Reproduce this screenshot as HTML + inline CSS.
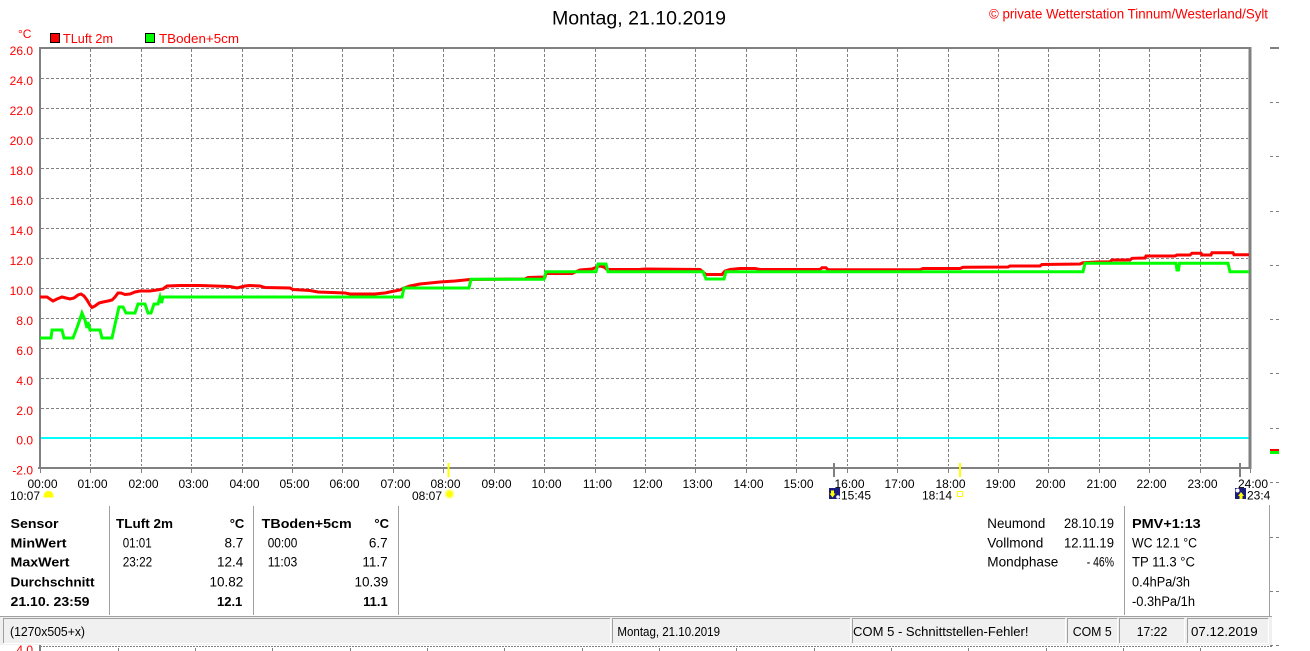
<!DOCTYPE html>
<html><head><meta charset="utf-8">
<style>
html,body{margin:0;padding:0;background:#fff;}
svg{display:block;}
text{font-family:"Liberation Sans",Arial,sans-serif;}
</style></head><body>
<svg width="1310" height="651" viewBox="0 0 1310 651" xmlns="http://www.w3.org/2000/svg">
<rect width="1310" height="651" fill="#fff"/>

<!-- Title & copyright -->
<text x="552" y="24.5" font-size="19" textLength="174" lengthAdjust="spacingAndGlyphs" fill="#000">Montag, 21.10.2019</text>
<text x="989" y="18.3" font-size="13.5" textLength="279" lengthAdjust="spacingAndGlyphs" fill="#ff0000">© private Wetterstation Tinnum/Westerland/Sylt</text>

<!-- Legend -->
<text x="18" y="38" font-size="12" fill="#ff0000">°C</text>
<rect x="50.5" y="33.5" width="9" height="9" fill="#ff0000" stroke="#000" stroke-width="1"/>
<text x="63" y="43" font-size="13" textLength="50" lengthAdjust="spacingAndGlyphs" fill="#ff0000">TLuft 2m</text>
<rect x="145.5" y="33.5" width="9" height="9" fill="#00ff00" stroke="#000" stroke-width="1"/>
<text x="159" y="43" font-size="13.3" textLength="80" lengthAdjust="spacingAndGlyphs" fill="#ff0000">TBoden+5cm</text>

<!-- Grid -->
<g stroke="#808080" stroke-width="1" stroke-dasharray="3 2" fill="none">
<path d="M90.5 49V466M141.5 49V466M191.5 49V466M242.5 49V466M292.5 49V466M342.5 49V466M393.5 49V466M443.5 49V466M494.5 49V466M544.5 49V466M595.5 49V466M645.5 49V466M695.5 49V466M746.5 49V466M796.5 49V466M847.5 49V466M897.5 49V466M948.5 49V466M998.5 49V466M1048.5 49V466M1099.5 49V466M1149.5 49V466M1200.5 49V466"/>
<path d="M41 78.5H1248M41 108.5H1248M41 138.5H1248M41 168.5H1248M41 198.5H1248M41 228.5H1248M41 258.5H1248M41 288.5H1248M41 318.5H1248M41 348.5H1248M41 378.5H1248M41 408.5H1248"/>
</g>

<!-- hour ticks below axis -->
<g stroke="#808080" stroke-width="1">
<path d="M40.5 469V473M90.5 469V473M141.5 469V473M191.5 469V473M242.5 469V473M292.5 469V473M342.5 469V473M393.5 469V473M443.5 469V473M494.5 469V473M544.5 469V473M595.5 469V473M645.5 469V473M695.5 469V473M746.5 469V473M796.5 469V473M847.5 469V473M897.5 469V473M948.5 469V473M998.5 469V473M1048.5 469V473M1099.5 469V473M1149.5 469V473M1200.5 469V473M1250.5 469V473"/>
</g>

<!-- zero line -->
<rect x="41" y="437" width="1208" height="2" fill="#00ffff"/>

<!-- Axes border -->
<rect x="39" y="47" width="1212" height="2" fill="#808080"/>
<rect x="38" y="467" width="1213" height="2" fill="#808080"/>
<rect x="39" y="47" width="2" height="422" fill="#808080"/>
<rect x="1248.5" y="47" width="3" height="422" fill="#808080"/>

<!-- Y labels -->
<g font-size="12" fill="#ff0000" text-anchor="end">
<text x="33" y="55">26.0</text>
<text x="33" y="85">24.0</text>
<text x="33" y="115">22.0</text>
<text x="33" y="145">20.0</text>
<text x="33" y="175">18.0</text>
<text x="33" y="205">16.0</text>
<text x="33" y="235">14.0</text>
<text x="33" y="265">12.0</text>
<text x="33" y="295">10.0</text>
<text x="33" y="325">8.0</text>
<text x="33" y="355">6.0</text>
<text x="33" y="385">4.0</text>
<text x="33" y="415">2.0</text>
<text x="33" y="444.5">0.0</text>
<text x="33" y="474.5">-2.0</text>
</g>

<!-- Data series -->
<polyline fill="none" stroke="#ff0000" stroke-width="3" stroke-linejoin="miter" points="40,297 47,297 50,299 53,301 57,299 62,297 66,298 70,299 74,298 78,295 81,294 84,296 87,300 90,305 92,307.5 95,306 99,303 103,302 108,301 112,300 115,297 118,293 121,293 125,294.5 130,294 135,292 140,291 150,291 157,290 163,289 167,286 180,285.5 200,285.5 230,286.5 237,288 245,286 250,285.5 260,286 265,287.5 290,288 293,289.5 310,290.5 318,292 345,293 350,294 375,294 385,293 392,291.5 400,290 404,288 410,286 420,284 430,283 440,282 455,281 460,280.5 470,279.5 525,279 528,277.5 545,277 546,273.5 572,273.5 580,270 592,269 597,267 600,266 604,267 607,269.5 640,269.5 645,269 700,269.5 703,272 706,274.5 722,274.5 725,271 730,269.5 740,268.5 755,268.5 760,269.5 820,269.5 822,267.7 826,267.7 828,269.8 920,269.8 923,268.5 960,268.5 963,267.3 1008,267 1010,266 1040,266 1042,264.5 1080,264 1083,262.7 1097,262 1110,261.7 1112,260 1130,260 1132,258.3 1145,258 1146,256 1175,256 1177,255 1190,255 1192,253.3 1201,253.3 1202,255 1211,255 1212,252.7 1233,252.7 1234,254.7 1249,254.7"/>
<polyline fill="none" stroke="#00ff00" stroke-width="3" stroke-linejoin="miter" points="40,338 51,338 52,330 62,330 64,338 73,338 78,325 82,313 85,320 87,328 88,322 90,330 100,330 102,338 112,338 116,320 119,307 123,307 126,313 135,313 138,304 145,304 148,313 151,313 154,304 158,304 160,297 161.5,303 163,297 402,297 404,288 469,288 471,279.3 544,279.3 546,271.7 596,271.7 598,264 606,264 608,271.7 703,271.7 706,279 724,279 726,271.7 1083,271.7 1085,263.3 1176,263.3 1177,270 1178.5,270 1179.5,263.3 1228,263.3 1230,271.7 1249,271.7"/>

<!-- X labels -->
<g font-size="12" fill="#000" text-anchor="middle">
<text x="42.5" y="488">00:00</text>
<text x="92.5" y="488">01:00</text>
<text x="143.5" y="488">02:00</text>
<text x="193.5" y="488">03:00</text>
<text x="244.5" y="488">04:00</text>
<text x="294.5" y="488">05:00</text>
<text x="344.5" y="488">06:00</text>
<text x="395.5" y="488">07:00</text>
<text x="445.5" y="488">08:00</text>
<text x="496.5" y="488">09:00</text>
<text x="546.5" y="488">10:00</text>
<text x="597.5" y="488">11:00</text>
<text x="647.5" y="488">12:00</text>
<text x="697.5" y="488">13:00</text>
<text x="748.5" y="488">14:00</text>
<text x="798.5" y="488">15:00</text>
<text x="849.5" y="488">16:00</text>
<text x="899.5" y="488">17:00</text>
<text x="950.5" y="488">18:00</text>
<text x="1000.5" y="488">19:00</text>
<text x="1050.5" y="488">20:00</text>
<text x="1101.5" y="488">21:00</text>
<text x="1151.5" y="488">22:00</text>
<text x="1202.5" y="488">23:00</text>
<text x="1253" y="488">24:00</text>
</g>

<!-- Sun/moon markers -->
<rect x="447.5" y="463" width="2" height="14" fill="#ffff00"/>
<rect x="959" y="463" width="2" height="14" fill="#ffff00"/>
<rect x="833" y="463" width="2" height="14" fill="#808080"/>
<rect x="1239" y="463" width="2" height="14" fill="#808080"/>

<g font-size="12" fill="#000">
<text x="10" y="500">10:07</text>
<text x="412" y="500">08:07</text>
<text x="841" y="499.5">15:45</text>
<text x="922" y="499.5">18:14</text>
<text x="1247" y="499.5">23:4</text>
</g>
<path d="M43.5 497.5 Q43.5 491 48.5 491 Q53.5 491 53.5 497.5 Z" fill="#ffff00"/>
<circle cx="449.5" cy="494" r="5" fill="#ffff99"/>
<circle cx="449.5" cy="494" r="3.2" fill="#ffff00"/>
<rect x="829" y="488" width="11" height="11" fill="#1c1c7c"/>
<path d="M831 490.5h3v3h1.5l-3 4l-3-4h1.5z" fill="#ffff00"/>
<circle cx="838" cy="497" r="1.8" fill="#fff"/>
<rect x="957.5" y="491.5" width="5" height="5" fill="none" stroke="#ffff00" stroke-width="1"/>
<rect x="1235" y="488" width="11" height="11" fill="#1c1c7c"/>
<circle cx="1237.5" cy="490.5" r="2" fill="#fff"/>
<path d="M1241 492l3 4h-1.5v3h-3v-3h-1.5z" fill="#ffff00"/>

<!-- Right side marks -->
<rect x="1270" y="47" width="9" height="2" fill="#808080"/>
<g stroke="#808080" stroke-width="1">
<path d="M1270 102.5h3M1276 102.5h3M1270 156.5h3M1276 156.5h3M1270 211.5h3M1276 211.5h3M1270 265.5h3M1276 265.5h3M1270 319.5h3M1276 319.5h3M1270 373.5h3M1276 373.5h3M1270 428.5h3M1276 428.5h3M1270 482.5h3M1276 482.5h3M1270 537.5h3M1276 537.5h3M1270 591.5h3M1276 591.5h3M1270 645.5h3M1276 645.5h3"/>
</g>
<rect x="1270" y="449" width="9" height="2" fill="#ff0000"/>
<rect x="1270" y="451" width="9" height="3" fill="#00ff00"/>

<!-- Table separators -->
<g stroke="#a0a0a0" stroke-width="1">
<path d="M109.5 506V615M253.5 506V615M398.5 506V615M1124.5 506V615M1269.5 505V617"/>
</g>

<!-- Table text -->
<g font-size="13" fill="#000" font-weight="bold">
<text x="10.5" y="528" textLength="48" lengthAdjust="spacingAndGlyphs">Sensor</text>
<text x="10.5" y="547.3" textLength="56" lengthAdjust="spacingAndGlyphs">MinWert</text>
<text x="10.5" y="566.7" textLength="59" lengthAdjust="spacingAndGlyphs">MaxWert</text>
<text x="10.5" y="586.3" textLength="84" lengthAdjust="spacingAndGlyphs">Durchschnitt</text>
<text x="10.5" y="606" textLength="79" lengthAdjust="spacingAndGlyphs">21.10. 23:59</text>
<text x="116" y="528" textLength="57" lengthAdjust="spacingAndGlyphs">TLuft 2m</text>
<text x="244.3" y="528" text-anchor="end">°C</text>
<text x="261.7" y="528" textLength="90" lengthAdjust="spacingAndGlyphs">TBoden+5cm</text>
<text x="389" y="528" text-anchor="end">°C</text>
<text x="242.3" y="606" text-anchor="end">12.1</text>
<text x="387.7" y="606" text-anchor="end">11.1</text>
<text x="1132" y="528" textLength="68.7" lengthAdjust="spacingAndGlyphs">PMV+1:13</text>
</g>
<g font-size="13.5" fill="#000">
<text x="122.7" y="547.3" textLength="29" lengthAdjust="spacingAndGlyphs">01:01</text>
<text x="243.3" y="547.3" text-anchor="end">8.7</text>
<text x="122.7" y="566.7" textLength="29.5" lengthAdjust="spacingAndGlyphs">23:22</text>
<text x="243.3" y="566.7" text-anchor="end">12.4</text>
<text x="243.3" y="586.3" text-anchor="end">10.82</text>
<text x="267.7" y="547.3" textLength="29.6" lengthAdjust="spacingAndGlyphs">00:00</text>
<text x="387.7" y="547.3" text-anchor="end">6.7</text>
<text x="267.7" y="566.7" textLength="29.6" lengthAdjust="spacingAndGlyphs">11:03</text>
<text x="387.7" y="566.7" text-anchor="end">11.7</text>
<text x="388.3" y="586.3" text-anchor="end">10.39</text>

<text x="987.3" y="528" textLength="58" lengthAdjust="spacingAndGlyphs">Neumond</text>
<text x="1064" y="528" textLength="50" lengthAdjust="spacingAndGlyphs">28.10.19</text>
<text x="987.3" y="547.3" textLength="56" lengthAdjust="spacingAndGlyphs">Vollmond</text>
<text x="1064" y="547.3" textLength="50" lengthAdjust="spacingAndGlyphs">12.11.19</text>
<text x="987.3" y="566.7" textLength="71" lengthAdjust="spacingAndGlyphs">Mondphase</text>
<text x="1086.7" y="566.7" textLength="27.3" lengthAdjust="spacingAndGlyphs">- 46%</text>
<text x="1132" y="547.3" textLength="65" lengthAdjust="spacingAndGlyphs">WC 12.1 °C</text>
<text x="1132" y="566.7" textLength="63" lengthAdjust="spacingAndGlyphs">TP 11.3 °C</text>
<text x="1132" y="586.3" textLength="58" lengthAdjust="spacingAndGlyphs">0.4hPa/3h</text>
<text x="1132" y="606" textLength="63" lengthAdjust="spacingAndGlyphs">-0.3hPa/1h</text>
</g>

<!-- Status bar -->
<rect x="0" y="616" width="1272" height="29" fill="#f0f0f0"/>
<path d="M0 616.5H1272" stroke="#a0a0a0" stroke-width="1"/>
<g stroke-width="1" fill="none">
<path d="M3.5 643V618.5H610.5" stroke="#a0a0a0"/>
<path d="M610.5 618.5V643.5H3.5" stroke="#fff"/>
<path d="M612.5 643V618.5H850.5" stroke="#a0a0a0"/>
<path d="M850.5 618.5V643.5H612.5" stroke="#fff"/>
<path d="M852.5 643V618.5H1065.5" stroke="#a0a0a0"/>
<path d="M1065.5 618.5V643.5H852.5" stroke="#fff"/>
<path d="M1067.5 643V618.5H1117.5" stroke="#a0a0a0"/>
<path d="M1117.5 618.5V643.5H1067.5" stroke="#fff"/>
<path d="M1119.5 643V618.5H1184.5" stroke="#a0a0a0"/>
<path d="M1184.5 618.5V643.5H1119.5" stroke="#fff"/>
<path d="M1187.5 643V618.5H1268.5" stroke="#a0a0a0"/>
<path d="M1268.5 618.5V643.5H1187.5" stroke="#fff"/>
</g>
<g font-size="13" fill="#000">
<text x="10" y="636" textLength="75" lengthAdjust="spacingAndGlyphs">(1270x505+x)</text>
<text x="617.4" y="636" textLength="102.6" lengthAdjust="spacingAndGlyphs">Montag, 21.10.2019</text>
<text x="853" y="636" textLength="175.5" lengthAdjust="spacingAndGlyphs">COM 5 - Schnittstellen-Fehler!</text>
<text x="1072.7" y="636" textLength="39" lengthAdjust="spacingAndGlyphs">COM 5</text>
<text x="1136.7" y="636" textLength="30.6" lengthAdjust="spacingAndGlyphs">17:22</text>
<text x="1191" y="636" textLength="66.7" lengthAdjust="spacingAndGlyphs">07.12.2019</text>
</g>

<!-- Next chart (cut off) -->
<path d="M40 646.5H1273" stroke="#808080" stroke-width="1" stroke-dasharray="2 1"/>
<rect x="39" y="645" width="2" height="6" fill="#808080"/>
<g stroke="#808080" stroke-width="1">
<path d="M118.5 648V651M195.5 648V651M272.5 648V651M350.5 648V651M427.5 648V651M504.5 648V651M582.5 648V651M659.5 648V651M736.5 648V651M814.5 648V651M891.5 648V651M968.5 648V651M1046.5 648V651M1123.5 648V651M1200.5 648V651"/>
</g>
<text x="33" y="654" font-size="12" fill="#ff0000" text-anchor="end">4.0</text>
</svg>
</body></html>
